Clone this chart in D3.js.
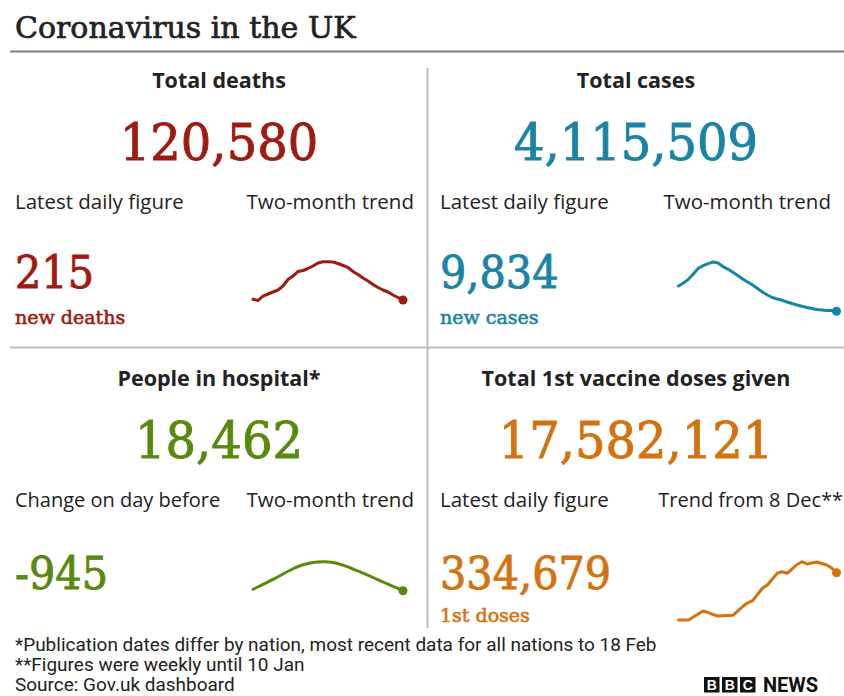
<!DOCTYPE html>
<html>
<head>
<meta charset="utf-8">
<script src="https://cdn.jsdelivr.net/npm/d3@7"></script>
<style>
  html, body { margin: 0; padding: 0; background: #fff; }
  svg { display: block; }
</style>
</head>
<body>
<svg id="chart" width="844" height="696"></svg>
<script>
// Headline figures
const panelTitles = ["Total deaths", "Total cases", "People in hospital*", "Total 1st vaccine doses given"];
const totals = [120580, 4115509, 18462, 17582121];
const latestLabels = ["Latest daily figure", "Latest daily figure", "Change on day before", "Latest daily figure"];
const latestValues = [215, 9834, -945, 334679];
const latestUnits = ["new deaths", "new cases", "", "1st doses"];
const trendLabels = ["Two-month trend", "Two-month trend", "Two-month trend", "Trend from 8 Dec**"];

// Trend series (rolling daily figures)
const deathsTrend = [464, 440, 532, 574, 615, 656, 738, 872, 944, 1037, 1058, 1099, 1150, 1212, 1237, 1239,
  1233, 1202, 1161, 1120, 1037, 975, 903, 841, 769, 708, 656, 615, 553, 502, 450];
const casesTrend = [35900, 38750, 42300, 47400, 52900, 55600, 57500, 59000, 58000, 54600, 52200, 49060, 45980,
  42600, 39700, 36800, 33460, 30090, 27200, 24790, 23350, 22090, 20460, 19010, 17570, 16310, 15160, 14200,
  13230, 12750, 12270, 12170, 11500];
const hospitalTrend = [19466, 22907, 26492, 30436, 34380, 37250, 38900, 39255, 39040, 36890, 34020, 31150,
  27930, 24700, 21470, 18462];
const vaccineTrend = [30000, 30000, 30000, 49300, 68600, 88000, 77000, 65400, 55800, 57700, 59000, 60300,
  88000, 117000, 140800, 154300, 194200, 234200, 255400, 294100, 330800, 341100, 330800, 358500, 387500,
  405500, 390700, 397100, 403600, 393900, 384300, 365000, 334679];

const footnotes = [
  "*Publication dates differ by nation, most recent data for all nations to 18 Feb",
  "**Figures were weekly until 10 Jan",
  "Source: Gov.uk dashboard"
];

const colours = ["#9f1a10", "#1a84a6", "#588a0d", "#d4720f"];
const sans = "'Open Sans', 'Noto Sans', sans-serif";
const serif = "'DejaVu Serif', serif";
const narrow = "'Liberation Sans Narrow', 'Roboto', sans-serif";
const ink = "#222";

const svg = d3.select("#chart");
svg.append("rect").attr("width", 844).attr("height", 696).attr("fill", "#fff");

// Title and rule
svg.append("text").attr("x", 15).attr("y", 38)
  .attr("font-family", serif).attr("font-size", 30).attr("fill", ink)
  .attr("stroke", ink).attr("stroke-width", 0.7)
  .text("Coronavirus in the UK");
svg.append("line").attr("x1", 10).attr("x2", 844).attr("y1", 51.5).attr("y2", 51.5)
  .attr("stroke", "#808080").attr("stroke-width", 2);

// Grid dividers
svg.append("line").attr("x1", 427.5).attr("x2", 427.5).attr("y1", 68).attr("y2", 628)
  .attr("stroke", "#bdbdbd").attr("stroke-width", 2);
svg.append("line").attr("x1", 10).attr("x2", 844).attr("y1", 347.5).attr("y2", 347.5)
  .attr("stroke", "#bdbdbd").attr("stroke-width", 2);

const fmt = d3.format(",");

// Panel geometry: left edge, top offset, sparkline box
const panels = [
  { x0: 15, cx: 219, top: 0, spark: { x0: 253, x1: 403, y0: 300.5, y1: 261.7 }, series: deathsTrend, unitY: 324, numY: 288 },
  { x0: 440, cx: 636, top: 0, spark: { x0: 678.5, x1: 836.5, y0: 311.3, y1: 262 }, series: casesTrend, unitY: 324, numY: 288 },
  { x0: 15, cx: 219, top: 298, spark: { x0: 253, x1: 403, y0: 590.7, y1: 561.7 }, series: hospitalTrend, unitY: 0, numY: 589, curve: d3.curveBasis },
  { x0: 440, cx: 636, top: 298, spark: { x0: 678.5, x1: 836.5, y0: 620, y1: 561.7 }, series: vaccineTrend, unitY: 622, numY: 589 }
];

panels.forEach((p, i) => {
  const g = svg.append("g");
  const c = colours[i];
  g.append("text").attr("x", p.cx).attr("y", 88 + p.top).attr("text-anchor", "middle")
    .attr("font-family", sans).attr("font-weight", 700).attr("font-size", 21.5).attr("fill", ink)
    .text(panelTitles[i]);
  g.append("text").attr("transform", `translate(${p.cx},${160 + p.top}) scale(0.96,1)`)
    .attr("text-anchor", "middle")
    .attr("font-family", serif).attr("font-size", 50).attr("fill", c)
    .attr("stroke", c).attr("stroke-width", 0.9)
    .text(fmt(totals[i]));
  g.append("text").attr("x", p.x0).attr("y", 209 + p.top)
    .attr("font-family", sans).attr("font-size", i === 2 ? 20 : 20.5).attr("fill", ink)
    .text(latestLabels[i]);
  g.append("text").attr("x", i === 3 ? 843 : (i % 2 === 0 ? 414 : 831))
    .attr("y", 209 + p.top).attr("text-anchor", "end")
    .attr("font-family", sans).attr("font-size", i === 3 ? 20 : 20.5).attr("fill", ink)
    .text(trendLabels[i]);
  g.append("text").attr("transform", `translate(${p.x0},${p.numY}) scale(0.92,1)`)
    .attr("font-family", serif).attr("font-size", 45).attr("fill", c)
    .attr("stroke", c).attr("stroke-width", 0.9)
    .text(latestValues[i] < 0 ? "-" + fmt(Math.abs(latestValues[i])) : fmt(latestValues[i]));
  if (latestUnits[i]) {
    g.append("text").attr("x", p.x0).attr("y", p.unitY)
      .attr("font-family", serif).attr("font-size", 19).attr("fill", c)
      .attr("stroke", c).attr("stroke-width", 0.6)
      .text(latestUnits[i]);
  }

  // Sparkline
  const s = p.series;
  const x = d3.scaleLinear().domain([0, s.length - 1]).range([p.spark.x0, p.spark.x1]);
  const y = d3.scaleLinear().domain(d3.extent(s)).range([p.spark.y0, p.spark.y1]);
  const line = d3.line().x((d, k) => x(k)).y(d => y(d)).curve(p.curve || d3.curveLinear);
  g.append("path").datum(s).attr("d", line)
    .attr("fill", "none").attr("stroke", c).attr("stroke-width", 3)
    .attr("stroke-linejoin", "round").attr("stroke-linecap", "round");
  g.append("circle").attr("cx", x(s.length - 1)).attr("cy", y(s[s.length - 1])).attr("r", 4.5).attr("fill", c);
});

// Footnotes
const noteY = [651, 671, 691];
footnotes.forEach((t, k) => {
  svg.append("text").attr("transform", `translate(15,${noteY[k]}) scale(1.085,1)`)
    .attr("font-family", narrow).attr("font-size", 17.5).attr("fill", ink)
    .text(t);
});

// BBC NEWS mark
const logo = svg.append("g").attr("transform", "translate(704,677)");
["B", "B", "C"].forEach((l, k) => {
  logo.append("rect").attr("x", k * 18).attr("y", 0).attr("width", 15.5).attr("height", 15.5).attr("fill", "#111");
  logo.append("text").attr("x", k * 18 + 7.75).attr("y", 13).attr("text-anchor", "middle")
    .attr("font-family", "'Liberation Sans', sans-serif").attr("font-weight", 700).attr("font-size", 14).attr("fill", "#fff")
    .text(l);
});
logo.append("text").attr("x", 59).attr("y", 14.5)
  .attr("font-family", narrow).attr("font-weight", 700).attr("font-size", 20).attr("fill", "#111")
  .text("NEWS");
</script>
</body>
</html>
